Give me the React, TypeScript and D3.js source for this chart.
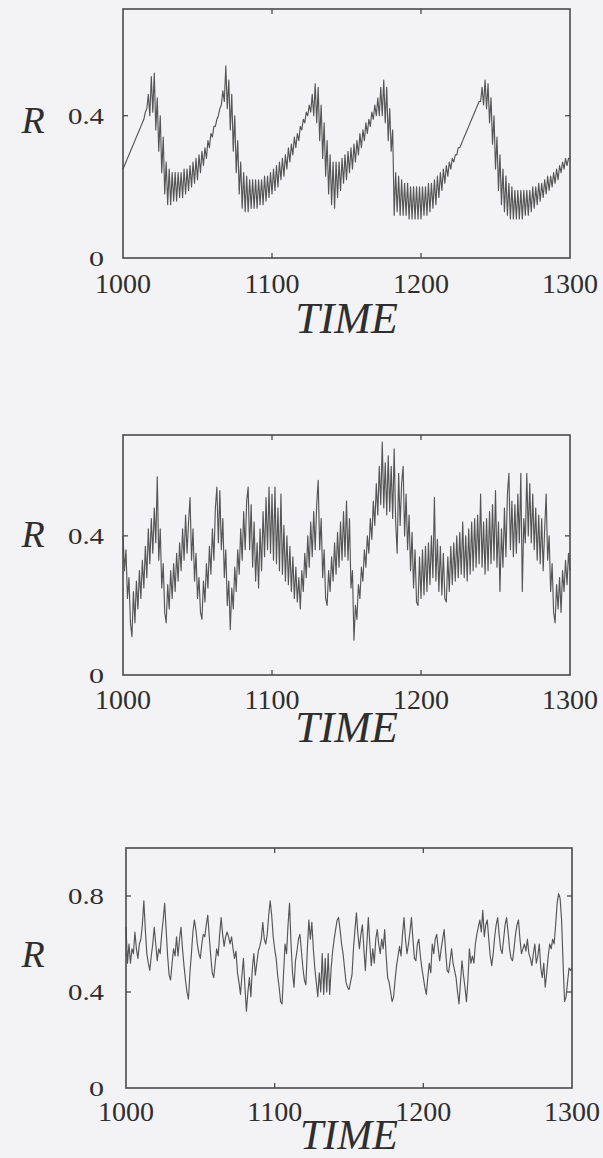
import React from "react";
import * as d3 from "d3";

const T0 = 1000;
const xTicks = [1000, 1100, 1200, 1300];

// Panel 1: R(t), t = 1000..1300 step 1
const r1: number[] = [
  0.25,0.26,0.27,0.28,0.29,0.30,0.31,0.32,0.33,0.34,
  0.35,0.36,0.37,0.38,0.39,0.41,0.42,0.46,0.40,0.51,
  0.41,0.52,0.36,0.45,0.30,0.40,0.24,0.34,0.18,0.27,
  0.15,0.25,0.15,0.24,0.16,0.24,0.16,0.24,0.17,0.24,
  0.17,0.25,0.18,0.25,0.19,0.26,0.20,0.27,0.21,0.28,
  0.22,0.29,0.24,0.30,0.26,0.31,0.28,0.33,0.31,0.35,
  0.34,0.37,0.37,0.39,0.40,0.42,0.43,0.47,0.44,0.54,
  0.42,0.50,0.36,0.46,0.30,0.40,0.24,0.33,0.18,0.27,
  0.14,0.24,0.13,0.23,0.13,0.22,0.14,0.22,0.14,0.22,
  0.14,0.22,0.15,0.22,0.15,0.23,0.16,0.23,0.17,0.24,
  0.18,0.25,0.19,0.26,0.20,0.27,0.22,0.28,0.23,0.29,
  0.25,0.31,0.27,0.32,0.29,0.34,0.31,0.35,0.33,0.37,
  0.36,0.39,0.38,0.41,0.40,0.43,0.41,0.46,0.40,0.49,
  0.38,0.48,0.33,0.43,0.28,0.38,0.23,0.33,0.18,0.29,
  0.15,0.27,0.14,0.27,0.17,0.27,0.19,0.28,0.21,0.29,
  0.22,0.30,0.24,0.31,0.25,0.32,0.27,0.33,0.29,0.35,
  0.31,0.36,0.33,0.38,0.35,0.39,0.37,0.41,0.39,0.43,
  0.40,0.45,0.40,0.48,0.40,0.50,0.38,0.48,0.33,0.42,
  0.30,0.36,0.12,0.24,0.13,0.23,0.12,0.22,0.12,0.21,
  0.12,0.21,0.11,0.20,0.11,0.20,0.11,0.20,0.11,0.20,
  0.11,0.20,0.12,0.20,0.12,0.21,0.13,0.21,0.14,0.22,
  0.15,0.23,0.17,0.24,0.19,0.25,0.21,0.26,0.23,0.27,
  0.25,0.28,0.27,0.29,0.29,0.31,0.31,0.32,0.33,0.34,
  0.35,0.36,0.37,0.38,0.39,0.40,0.41,0.42,0.43,0.44,
  0.44,0.48,0.43,0.50,0.42,0.49,0.38,0.45,0.32,0.40,
  0.25,0.34,0.19,0.29,0.15,0.25,0.13,0.23,0.12,0.21,
  0.11,0.20,0.11,0.19,0.11,0.19,0.11,0.19,0.11,0.19,
  0.12,0.19,0.12,0.19,0.13,0.20,0.14,0.20,0.15,0.21,
  0.16,0.21,0.17,0.22,0.18,0.23,0.19,0.23,0.20,0.24,
  0.21,0.25,0.22,0.26,0.24,0.27,0.25,0.28,0.26,0.28,
  0.28,
];

// Panel 2
const r2: number[] = [
  0.40,0.30,0.36,0.22,0.28,0.15,0.11,0.24,0.15,0.27,
  0.19,0.30,0.22,0.33,0.25,0.37,0.28,0.42,0.32,0.45,
  0.35,0.48,0.38,0.57,0.33,0.42,0.25,0.32,0.18,0.15,
  0.26,0.19,0.30,0.22,0.32,0.24,0.35,0.27,0.38,0.30,
  0.42,0.33,0.46,0.35,0.44,0.51,0.33,0.42,0.27,0.35,
  0.22,0.28,0.18,0.16,0.27,0.21,0.32,0.25,0.37,0.29,
  0.42,0.33,0.48,0.54,0.38,0.53,0.36,0.45,0.28,0.36,
  0.20,0.27,0.13,0.25,0.19,0.31,0.24,0.36,0.29,0.42,
  0.33,0.47,0.36,0.50,0.54,0.36,0.49,0.31,0.44,0.27,
  0.38,0.25,0.42,0.30,0.47,0.34,0.51,0.36,0.54,0.35,
  0.52,0.33,0.54,0.32,0.48,0.30,0.52,0.29,0.43,0.27,
  0.40,0.26,0.37,0.24,0.34,0.22,0.31,0.21,0.28,0.19,
  0.30,0.24,0.35,0.28,0.40,0.31,0.44,0.34,0.47,0.36,
  0.49,0.56,0.36,0.45,0.28,0.36,0.22,0.20,0.30,0.24,
  0.34,0.27,0.38,0.29,0.41,0.31,0.44,0.33,0.47,0.34,
  0.50,0.33,0.45,0.25,0.30,0.10,0.20,0.16,0.26,0.22,
  0.31,0.27,0.36,0.31,0.40,0.35,0.45,0.39,0.50,0.43,
  0.55,0.46,0.60,0.49,0.67,0.48,0.61,0.46,0.63,0.47,
  0.60,0.45,0.65,0.44,0.35,0.58,0.43,0.55,0.60,0.40,
  0.52,0.36,0.46,0.30,0.41,0.25,0.36,0.21,0.20,0.34,
  0.22,0.36,0.23,0.37,0.24,0.38,0.26,0.40,0.28,0.51,
  0.27,0.39,0.24,0.37,0.23,0.35,0.22,0.21,0.34,0.24,
  0.37,0.26,0.38,0.27,0.40,0.28,0.41,0.29,0.44,0.28,
  0.40,0.27,0.42,0.29,0.44,0.30,0.45,0.31,0.46,0.32,
  0.52,0.31,0.44,0.29,0.45,0.30,0.47,0.32,0.49,0.33,
  0.53,0.31,0.44,0.24,0.42,0.31,0.48,0.34,0.52,0.58,
  0.36,0.50,0.34,0.49,0.35,0.52,0.38,0.58,0.24,0.45,
  0.38,0.58,0.40,0.55,0.38,0.52,0.36,0.48,0.33,0.46,
  0.32,0.45,0.30,0.42,0.52,0.33,0.40,0.24,0.32,0.18,
  0.15,0.26,0.19,0.28,0.18,0.30,0.24,0.33,0.26,0.35,
  0.30,
];

// Panel 3
const r3: number[] = [
  0.67,0.52,0.60,0.52,0.58,0.56,0.65,0.58,0.54,0.60,
  0.62,0.68,0.78,0.66,0.56,0.52,0.49,0.55,0.60,0.67,
  0.60,0.53,0.58,0.56,0.64,0.70,0.77,0.66,0.55,0.47,
  0.45,0.52,0.58,0.55,0.63,0.55,0.62,0.67,0.58,0.51,
  0.45,0.40,0.37,0.48,0.56,0.65,0.70,0.66,0.60,0.56,
  0.54,0.60,0.64,0.63,0.68,0.72,0.63,0.55,0.48,0.46,
  0.52,0.58,0.55,0.64,0.71,0.64,0.59,0.63,0.65,0.63,
  0.60,0.63,0.58,0.54,0.57,0.48,0.44,0.39,0.47,0.54,
  0.42,0.32,0.40,0.46,0.38,0.50,0.56,0.47,0.52,0.57,
  0.59,0.62,0.69,0.62,0.60,0.64,0.72,0.78,0.72,0.63,
  0.58,0.54,0.47,0.42,0.36,0.35,0.48,0.60,0.56,0.68,
  0.77,0.60,0.48,0.42,0.53,0.57,0.62,0.64,0.57,0.50,
  0.45,0.43,0.58,0.70,0.62,0.69,0.58,0.50,0.44,0.38,
  0.48,0.40,0.56,0.39,0.54,0.40,0.56,0.39,0.50,0.57,
  0.62,0.66,0.70,0.71,0.66,0.60,0.56,0.50,0.44,0.42,
  0.41,0.44,0.47,0.58,0.66,0.73,0.64,0.58,0.64,0.68,
  0.58,0.49,0.60,0.71,0.60,0.51,0.58,0.52,0.62,0.66,
  0.60,0.56,0.62,0.58,0.66,0.55,0.46,0.44,0.40,0.36,
  0.38,0.45,0.51,0.55,0.59,0.55,0.64,0.71,0.62,0.56,
  0.60,0.65,0.71,0.62,0.54,0.53,0.60,0.62,0.55,0.50,
  0.46,0.42,0.39,0.46,0.52,0.48,0.60,0.56,0.62,0.64,
  0.58,0.53,0.58,0.62,0.66,0.57,0.49,0.48,0.53,0.58,
  0.52,0.49,0.46,0.40,0.35,0.44,0.53,0.47,0.42,0.36,
  0.45,0.58,0.52,0.55,0.52,0.60,0.64,0.67,0.70,0.65,
  0.74,0.63,0.68,0.70,0.62,0.55,0.51,0.56,0.63,0.68,
  0.71,0.64,0.58,0.56,0.62,0.68,0.71,0.65,0.58,0.54,
  0.53,0.58,0.64,0.68,0.70,0.62,0.56,0.58,0.60,0.57,
  0.62,0.56,0.54,0.51,0.56,0.60,0.52,0.55,0.60,0.50,
  0.46,0.52,0.42,0.48,0.55,0.60,0.58,0.62,0.60,0.68,
  0.77,0.81,0.79,0.70,0.52,0.36,0.38,0.44,0.50,0.49,
  0.50,
];

type Panel = {
  data: number[];
  left: number; right: number; top: number; bottom: number;
  yMax: number; yTicks: number[];
  tickLabelBase: number; timeBase: number; timeSize: number; rBase: number;
};

const panels: Panel[] = [
  { data: r1, left: 123, right: 570, top: 9, bottom: 258, yMax: 0.7, yTicks: [0.4], tickLabelBase: 293, timeBase: 333, timeSize: 44, rBase: 133 },
  { data: r2, left: 123, right: 570, top: 435, bottom: 675, yMax: 0.69, yTicks: [0.4], tickLabelBase: 709, timeBase: 742, timeSize: 44, rBase: 547 },
  { data: r3, left: 126, right: 572, top: 848, bottom: 1088, yMax: 1.0, yTicks: [0.4, 0.8], tickLabelBase: 1121, timeBase: 1149, timeSize: 42, rBase: 967 },
];

const FRAME = "#4a4a4a";
const LINE = "#555555";
const TEXT = "#2e2e2e";
const SERIF = "Liberation Serif, Times New Roman, Times, serif";

function PanelView({ p }: { p: Panel }) {
  const x = d3.scaleLinear().domain([1000, 1300]).range([p.left, p.right]);
  const y = d3.scaleLinear().domain([0, p.yMax]).range([p.bottom, p.top]);
  const line = d3.line<number>().x((_, i) => x(T0 + i)).y((d) => y(d));
  const tl = 5;
  return (
    <g>
      <path d={line(p.data) || ""} fill="none" stroke={LINE} strokeWidth={1.15} strokeLinejoin="round" />
      <rect x={p.left} y={p.top} width={p.right - p.left} height={p.bottom - p.top} fill="none" stroke={FRAME} strokeWidth={1.6} />
      {xTicks.slice(1, -1).map((t) => (
        <g key={"xt" + t}>
          <line x1={x(t)} x2={x(t)} y1={p.bottom} y2={p.bottom - tl} stroke={FRAME} strokeWidth={1.3} />
          <line x1={x(t)} x2={x(t)} y1={p.top} y2={p.top + tl} stroke={FRAME} strokeWidth={1.3} />
        </g>
      ))}
      {p.yTicks.map((v) => (
        <g key={"yt" + v}>
          <line x1={p.left} x2={p.left + tl} y1={y(v)} y2={y(v)} stroke={FRAME} strokeWidth={1.3} />
          <line x1={p.right} x2={p.right - tl} y1={y(v)} y2={y(v)} stroke={FRAME} strokeWidth={1.3} />
          <text x={104} y={y(v) + 8} textAnchor="end" fontFamily={SERIF} fontSize={23} fill={TEXT}
            textLength={36} lengthAdjust="spacingAndGlyphs">{String(v)}</text>
        </g>
      ))}
      <text x={104} y={y(0) + 8} textAnchor="end" fontFamily={SERIF} fontSize={21} fill={TEXT}
        textLength={15} lengthAdjust="spacingAndGlyphs">0</text>
      {xTicks.map((t) => (
        <text key={"xl" + t} x={x(t)} y={p.tickLabelBase} textAnchor="middle" fontFamily={SERIF} fontSize={28} fill={TEXT}>{t}</text>
      ))}
      <text x={(p.left + p.right) / 2} y={p.timeBase} textAnchor="middle" fontFamily={SERIF} fontStyle="italic" fontSize={p.timeSize} fill={TEXT}>TIME</text>
      <text x={33} y={p.rBase} textAnchor="middle" fontFamily={SERIF} fontStyle="italic" fontSize={38} fill={TEXT}>R</text>
    </g>
  );
}

export default function App() {
  return (
    <svg width={603} height={1158} style={{ position: "absolute", left: 0, top: 0 }}>
      <rect x={0} y={0} width={603} height={1158} fill="#f3f2f4" />
      {panels.map((p, i) => <PanelView key={i} p={p} />)}
    </svg>
  );
}
